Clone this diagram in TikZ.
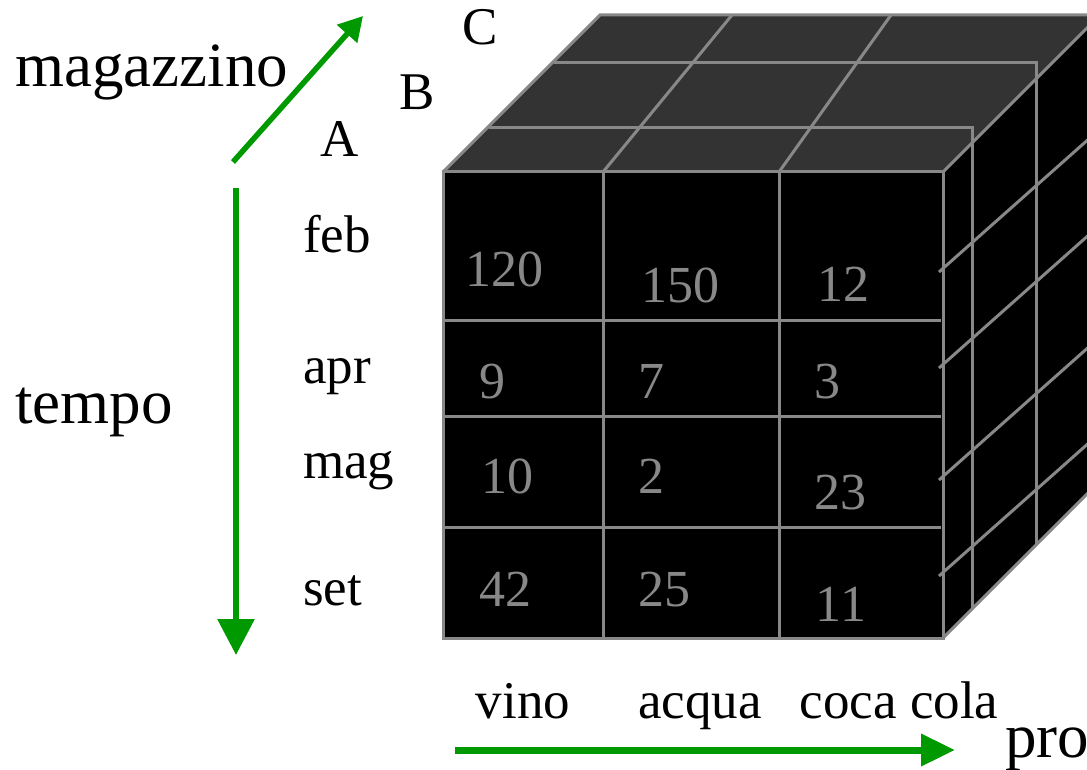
\documentclass[tikz,border=0pt]{standalone}
\usepackage{fontspec}
\setmainfont{Liberation Serif}
\usetikzlibrary{arrows.meta}
\definecolor{cubegray}{RGB}{136,136,136}
\definecolor{topgray}{RGB}{51,51,51}
\definecolor{axisgreen}{RGB}{0,153,0}

\begin{document}
\begin{tikzpicture}[x=1pt, y=-1pt,
        edge/.style={draw=cubegray, line width=3pt},
        axis/.style={draw=axisgreen, line width=6pt},
        bigtxt/.style={inner sep=0pt, anchor=base west, font=\fontsize{63}{70}\selectfont},
        lbl/.style={inner sep=0pt, anchor=base west, font=\fontsize{53}{60}\selectfont},
        prodlbl/.style={inner sep=0pt, anchor=base, font=\fontsize{53}{60}\selectfont},
        num/.style={inner sep=0pt, anchor=base, text=cubegray, font=\fontsize{52}{60}\selectfont}]
        \useasboundingbox (0,0) rectangle (1087,770);
        \clip (0,0) rectangle (1087,770);

        % facce del cubo
        \fill[topgray] (443,172) -- (600,15) -- (1100,15) -- (943,172) -- cycle;
        \fill[black] (943,172) -- (1100,15) -- (1100,481) -- (943,638) -- cycle;
        \fill[black] (443,172) rectangle (943,638);

        % griglia della faccia superiore e laterale
        \draw[edge] (489,128) -- (972,128) -- (972,609);
        \draw[edge] (554,63) -- (1036,63) -- (1036,545);
        \draw[edge] (603,172) -- (732,15);
        \draw[edge] (779,172) -- (891,15);
        \foreach \y in {272,368,480,576}
            \draw[edge] (939,\y) -- (1100,\y-143);

        % griglia della faccia frontale
        \foreach \x in {603,779}
            \draw[edge] (\x,172) -- (\x,638);
        \foreach \y in {320,416,527}
            \draw[edge] (443,\y) -- (941,\y);

        % contorni
        \draw[edge] (443,172) -- (600,15) -- (1100,15);
        \draw[edge] (943,172) -- (1100,15);
        \draw[edge] (943,638) -- (1100,481);
        \draw[edge] (443,172) rectangle (943,638);

        % valori
        \node[num] (v11) at (504,286) {120};
        \node[num] (v12) at (680,302) {150};
        \node[num] (v13) at (843,301) {12};
        \node[num] (v21) at (492,398) {9};
        \node[num] (v22) at (651,398) {7};
        \node[num] (v23) at (827,398) {3};
        \node[num] (v31) at (507,493) {10};
        \node[num] (v32) at (651,493) {2};
        \node[num] (v33) at (840,509) {23};
        \node[num] (v41) at (505,606) {42};
        \node[num] (v42) at (664,606) {25};
        \node[num] (v43) at (841,621) {11};

        % etichette dei mesi
        \node[lbl] (feb) at (303,253) {feb};
        \node[lbl] (apr) at (303,383) {apr};
        \node[lbl] (mag) at (303,478) {mag};
        \node[lbl] (set) at (303,605) {set};

        % etichette dei magazzini
        \node[lbl] (magA) at (320,157) {A};
        \node[lbl] (magB) at (399,110) {B};
        \node[lbl] (magC) at (462,45) {C};

        % etichette dei prodotti
        \node[prodlbl] (vino) at (523,718) {vino};
        \node[prodlbl] (acqua) at (700,718) {acqua};
        \node[prodlbl] (coca) at (899,718) {coca cola};

        % nomi degli assi
        \node[bigtxt] (magazzino) at (15,87) {magazzino};
        \node[bigtxt] (tempo) at (15,423) {tempo};
        \node[bigtxt] (prodotto) at (1005,757) {pro};

        % assi
        \coordinate (mS) at (233,162);
        \coordinate (mE) at (363,16);
        \coordinate (tS) at (236,188);
        \coordinate (tE) at (236,655);
        \coordinate (pS) at (455,750);
        \coordinate (pE) at (955,750);
        \draw[axis, line width=5.5pt, -{Triangle[length=24pt,width=26pt]}] (mS) -- (mE);
        \draw[axis, -{Triangle[length=36pt,width=36pt]}] (tS) -- (tE);
        \draw[axis, line width=7pt, -{Triangle[length=34pt,width=31pt]}] (pS) -- (pE);
\end{tikzpicture}
\end{document}
